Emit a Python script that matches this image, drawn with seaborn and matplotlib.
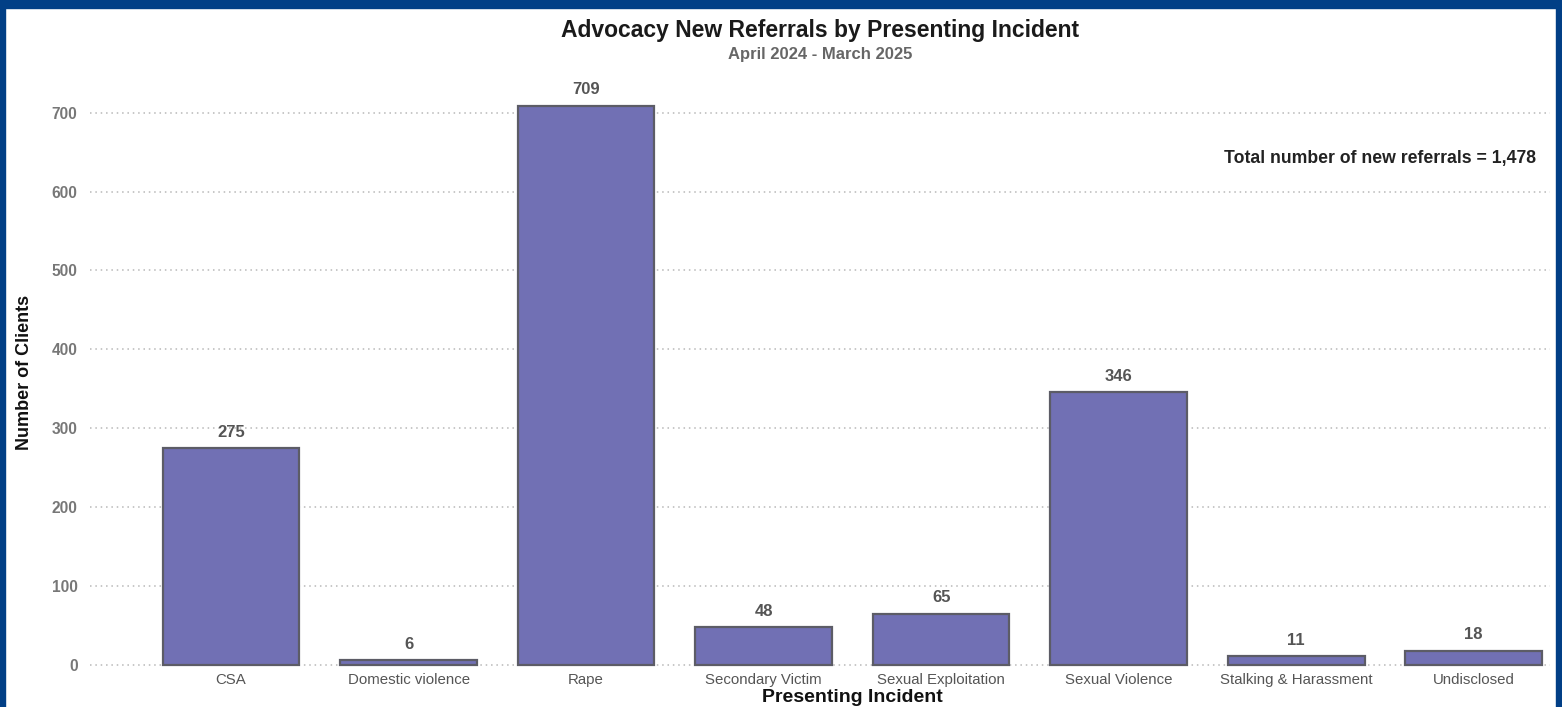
import matplotlib
matplotlib.use("Agg")
import matplotlib.pyplot as plt
import seaborn as sns
import pandas as pd
from matplotlib.patches import Rectangle

# Referral counts per presenting incident
categories = [
    "CSA",
    "Domestic violence",
    "Rape",
    "Secondary Victim",
    "Sexual Exploitation",
    "Sexual Violence",
    "Stalking & Harassment",
    "Undisclosed",
]
clients = [275, 6, 709, 48, 65, 346, 11, 18]
y_ticks = [0, 100, 200, 300, 400, 500, 600, 700]

title = "Advocacy New Referrals by Presenting Incident"
subtitle = "April 2024 - March 2025"
total_label = "Total number of new referrals = 1,478"

sns.set_theme(style="white")
plt.rcParams["font.family"] = ["Liberation Sans", "DejaVu Sans"]

W, H = 1562, 707
fig = plt.figure(figsize=(W / 100, H / 100), dpi=100, facecolor="white")

ax_left, ax_right, ax_top, ax_bottom = 90, 1550, 100, 670
ax = fig.add_axes([ax_left / W, 1 - ax_bottom / H,
                   (ax_right - ax_left) / W, (ax_bottom - ax_top) / H])

df = pd.DataFrame({"incident": categories, "clients": clients})
sns.barplot(data=df, x="incident", y="clients", color="#7170b4",
            saturation=1, width=0.77, edgecolor="#5c5c66", linewidth=1.6,
            ax=ax, zorder=3)

ax.set_xlim(-0.795, 7.43)
ax.set_ylim(-6.3, 716)
ax.set_yticks(y_ticks)
ax.set_axisbelow(True)
ax.yaxis.grid(True, linestyle=(0, (1, 2.5)), color="#b8b8b8", linewidth=1.1)
ax.xaxis.grid(False)
for s in ax.spines.values():
    s.set_visible(False)

ax.tick_params(axis="x", length=0, pad=2, labelsize=10.8, labelcolor="#555555")
ax.tick_params(axis="y", length=0, pad=9, labelsize=11.2, labelcolor="#777777")
for lab in ax.get_yticklabels():
    lab.set_fontweight("bold")

# Value labels above each bar
for patch, value in zip(ax.patches, clients):
    cx = patch.get_x() + patch.get_width() / 2
    ax.annotate(f"{value}", (cx, value), xytext=(0, 6),
                textcoords="offset points", ha="center", va="bottom",
                fontsize=12, fontweight="bold", color="#555555")

ax.set_ylabel("Number of Clients", fontsize=13, fontweight="bold",
              color="#111111")
ax.yaxis.set_label_coords((33 - ax_left) / (ax_right - ax_left),
                          (ax_bottom - 372) / (ax_bottom - ax_top))
ax.set_xlabel("Presenting Incident", fontsize=14, fontweight="bold",
              color="#111111", va="center")
ax.xaxis.set_label_coords((852 - ax_left) / (ax_right - ax_left),
                          (ax_bottom - 697) / (ax_bottom - ax_top))

fig.text(820 / W, 1 - 31 / H, title, ha="center", va="center",
         fontsize=16.5, fontweight="bold", color="#1a1a1a")
fig.text(820 / W, 1 - 55 / H, subtitle, ha="center", va="center",
         fontsize=12, fontweight="bold", color="#666666")
fig.text(1536 / W, 1 - 158 / H, total_label, ha="right", va="center",
         fontsize=12.7, fontweight="bold", color="#222222")

# Blue frame around the chart
frame = "#013f86"
fig.add_artist(Rectangle((0, 1 - 8 / H), 1, 8 / H, transform=fig.transFigure,
                         color=frame, zorder=10))
fig.add_artist(Rectangle((0, 0), 5 / W, 1, transform=fig.transFigure,
                         color=frame, zorder=10))
fig.add_artist(Rectangle((1556 / W, 0), 6 / W, 1, transform=fig.transFigure,
                         color=frame, zorder=10))

fig.savefig("out.png", dpi=100, facecolor="white")
